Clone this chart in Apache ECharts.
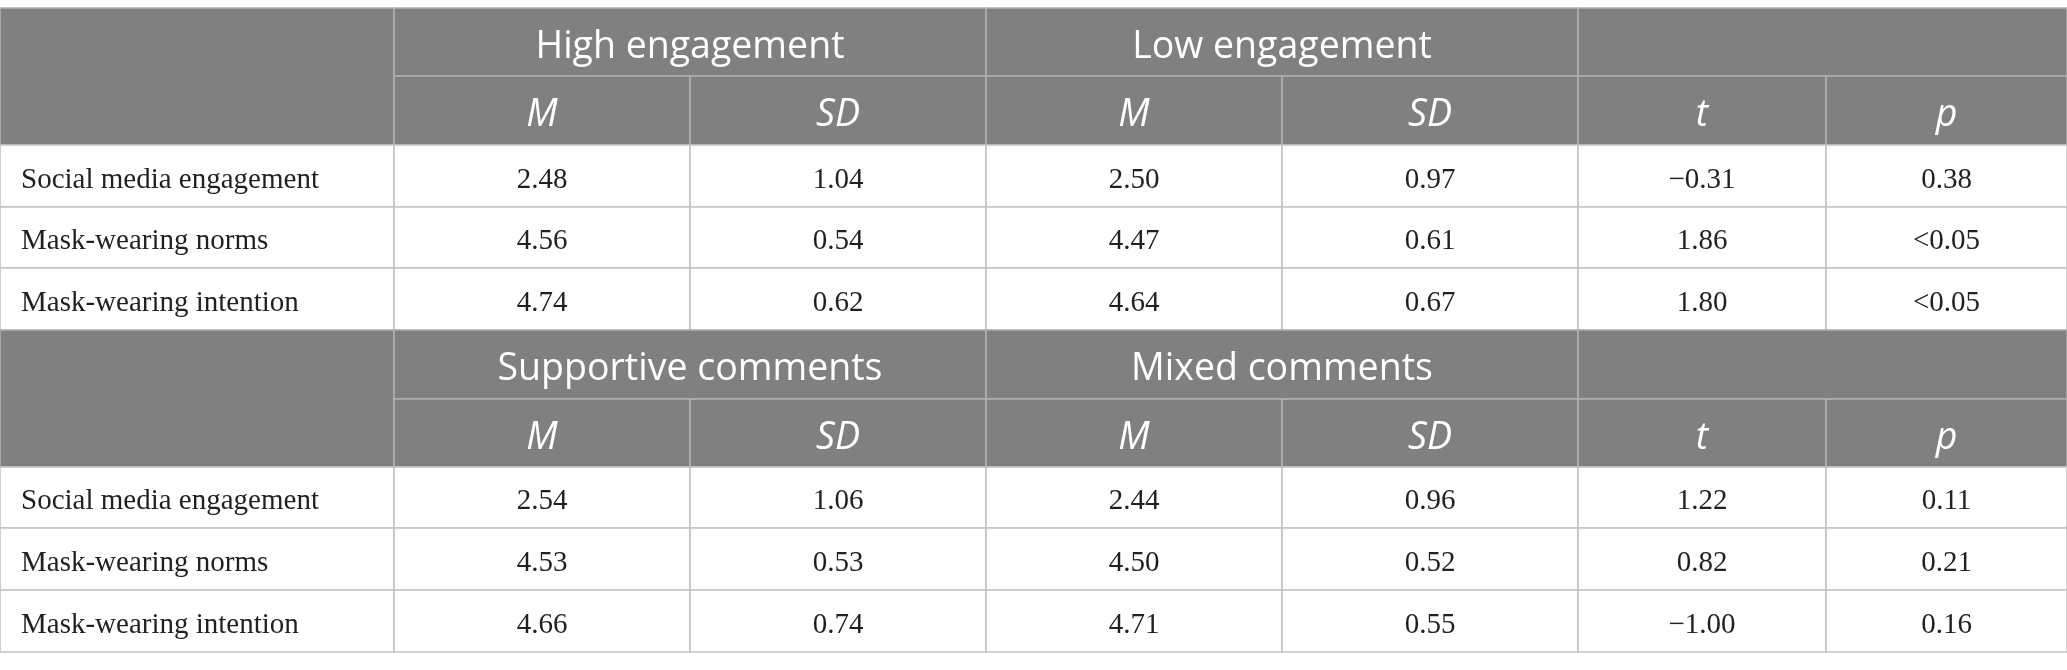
<!DOCTYPE html>
<html lang="en">
<head>
    <meta charset="UTF-8">
    <title>Engagement and comments table</title>
    <script type="text/javascript" src="https://cdn.jsdelivr.net/npm/echarts@6/dist/echarts.min.js"></script>
    <style>
        body { margin: 0; background: #fff; }
    </style>
</head>
<body>
<div id="main" style="width: 2067px;height:670px;"></div>
<script type="text/javascript">
    // 表格数据
    var rowLabels = ['Social media engagement', 'Mask-wearing norms', 'Mask-wearing intention'];
    var subHeaders = ['M', 'SD', 'M', 'SD', 't', 'p'];

    var groupsEngagement = ['High engagement', 'Low engagement'];
    var highEngM = [2.48, 4.56, 4.74];
    var highEngSD = [1.04, 0.54, 0.62];
    var lowEngM = [2.50, 4.47, 4.64];
    var lowEngSD = [0.97, 0.61, 0.67];
    var engT = [-0.31, 1.86, 1.80];
    var engP = ['0.38', '<0.05', '<0.05'];

    var groupsComments = ['Supportive comments', 'Mixed comments'];
    var supM = [2.54, 4.53, 4.66];
    var supSD = [1.06, 0.53, 0.74];
    var mixM = [2.44, 4.50, 4.71];
    var mixSD = [0.96, 0.52, 0.55];
    var comT = [1.22, 0.82, -1.00];
    var comP = ['0.11', '0.21', '0.16'];

    // 布局 (像素)
    var colEdges = [0, 394, 690, 986, 1282, 1578, 1826, 2067];
    var rowEdges = [8, 76, 145, 207, 268, 330, 399, 467, 528, 590, 652];

    function fmt(v) {
        if (typeof v === 'string') return v;
        return v.toFixed(2).replace('-', '\u2212');
    }

    var cells = [];
    function addBlock(b, groups, cols) {
        cells.push({c0: 0, c1: 1, r0: b, r1: b + 2, text: '', kind: 'head'});
        cells.push({c0: 1, c1: 3, r0: b, r1: b + 1, text: groups[0], kind: 'head'});
        cells.push({c0: 3, c1: 5, r0: b, r1: b + 1, text: groups[1], kind: 'head'});
        cells.push({c0: 5, c1: 7, r0: b, r1: b + 1, text: '', kind: 'head'});
        for (var i = 0; i < subHeaders.length; i++) {
            cells.push({c0: i + 1, c1: i + 2, r0: b + 1, r1: b + 2, text: subHeaders[i], kind: 'sub'});
        }
        for (var r = 0; r < rowLabels.length; r++) {
            cells.push({c0: 0, c1: 1, r0: b + 2 + r, r1: b + 3 + r, text: rowLabels[r], kind: 'label'});
            for (var c = 0; c < cols.length; c++) {
                cells.push({c0: c + 1, c1: c + 2, r0: b + 2 + r, r1: b + 3 + r, text: fmt(cols[c][r]), kind: 'num'});
            }
        }
    }
    addBlock(0, groupsEngagement, [highEngM, highEngSD, lowEngM, lowEngSD, engT, engP]);
    addBlock(5, groupsComments, [supM, supSD, mixM, mixSD, comT, comP]);

    function renderItem(params, api) {
        var cell = cells[params.dataIndex];
        var p0 = api.coord([api.value(0), api.value(2)]);
        var p1 = api.coord([api.value(1), api.value(3)]);
        var isHead = cell.kind === 'head' || cell.kind === 'sub';
        var children = [{
            type: 'rect',
            shape: {x: p0[0], y: p0[1], width: p1[0] - p0[0], height: p1[1] - p0[1]},
            style: {
                fill: isHead ? '#808080' : '#ffffff',
                stroke: isHead ? '#b0b0b0' : '#c4c4c4',
                lineWidth: 1.6
            }
        }];
        if (cell.text) {
            var left = cell.kind === 'label';
            var font;
            if (cell.kind === 'head') font = '37.5px "Open Sans"';
            else if (cell.kind === 'sub') font = 'italic 37.5px "Open Sans"';
            else font = '29px "Liberation Serif"';
            children.push({
                type: 'text',
                style: {
                    text: cell.text,
                    x: left ? p0[0] + 21 : (p0[0] + p1[0]) / 2,
                    y: (p0[1] + p1[1]) / 2 + (isHead ? 5 : 4),
                    font: font,
                    fill: isHead ? '#ffffff' : '#231f20',
                    align: left ? 'left' : 'center',
                    verticalAlign: 'middle',
                    textAlign: left ? 'left' : 'center',
                    textVerticalAlign: 'middle'
                }
            });
        }
        return {type: 'group', children: children};
    }

    var myChart = echarts.init(document.getElementById('main'));
    var option = {
        animation: false,
        grid: {left: 0, right: 0, top: 0, bottom: 0},
        xAxis: {type: 'value', min: 0, max: 2067, show: false},
        yAxis: {type: 'value', min: 0, max: 670, inverse: true, show: false},
        series: [{
            type: 'custom',
            silent: true,
            clip: false,
            renderItem: renderItem,
            encode: {x: [0, 1], y: [2, 3]},
            data: cells.map(function (c) {
                return [colEdges[c.c0], colEdges[c.c1], rowEdges[c.r0], rowEdges[c.r1]];
            })
        }]
    };
    myChart.setOption(option);
</script>
</body>
</html>
